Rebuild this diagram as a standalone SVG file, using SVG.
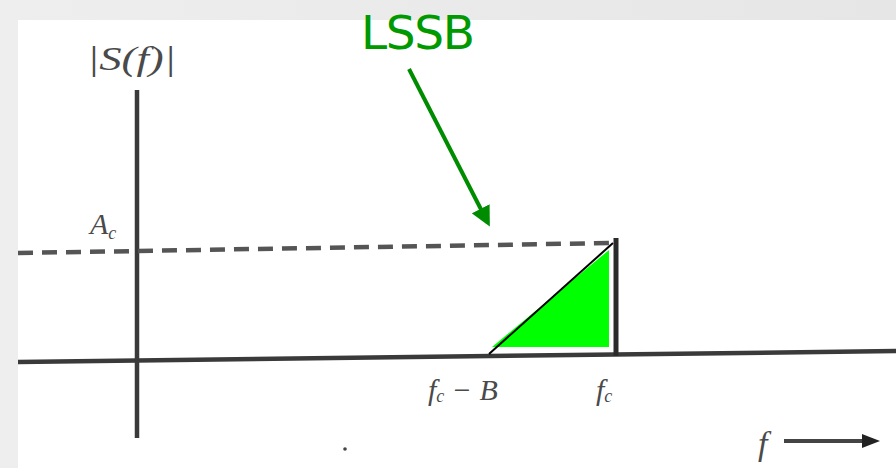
<svg xmlns="http://www.w3.org/2000/svg" width="896" height="468" viewBox="0 0 896 468">
  <defs>
    <linearGradient id="bg" x1="0" y1="0" x2="1" y2="0">
      <stop offset="0" stop-color="#eeeeee"/>
      <stop offset="1" stop-color="#e6e6e6"/>
    </linearGradient>
    <marker id="gh" markerWidth="5" markerHeight="5" refX="4" refY="2.5" orient="auto" markerUnits="strokeWidth">
      <path d="M0,0 L5,2.5 L0,5 Z" fill="#008c00"/>
    </marker>
    <style>
      .scan { font-family: "Liberation Serif", serif; font-style: italic; fill: #4a4a4a; }
      .axis { stroke: #3a3a3a; stroke-width: 4.5; fill: none; }
    </style>
  </defs>
  <rect width="896" height="468" fill="url(#bg)"/>
  <rect x="18" y="20" width="878" height="448" fill="#ffffff"/>

  <g id="connectors">
    <!-- horizontal axis -->
    <line class="axis" x1="18" y1="362" x2="896" y2="351"/>
    <!-- vertical axis -->
    <line class="axis" x1="137" y1="90" x2="137" y2="438" stroke="#4a4a4a" stroke-width="4"/>
    <!-- dashed amplitude line -->
    <line x1="18" y1="253" x2="612" y2="243" stroke="#555" stroke-width="4.5" stroke-dasharray="15 9"/>
    <!-- LSSB pointer arrow -->
    <line x1="409" y1="69" x2="488" y2="223" stroke="#008c00" stroke-width="4" marker-end="url(#gh)"/>
    <!-- f axis arrow -->
    <line x1="784" y1="441" x2="872" y2="441" stroke="#444" stroke-width="4"/>
    <path d="M862,434 L880,441 L862,448 Z" fill="#222"/>
  </g>

  <g id="lssb-spectrum">
    <polygon points="492,347 609,250 609,347" fill="#00ff00"/>
    <line x1="489" y1="354" x2="613" y2="243" stroke="#000" stroke-width="2"/>
    <line x1="616" y1="238" x2="616" y2="356" stroke="#2a2a2a" stroke-width="5"/>
  </g>

  <g id="label-lssb">
    <text x="361" y="49" font-family="DejaVu Sans, sans-serif" font-size="47" fill="#009900" textLength="114">LSSB</text>
  </g>

  <g id="label-sf">
    <text class="scan" x="87" y="70" font-size="34" textLength="89" lengthAdjust="spacingAndGlyphs">|S(f)|</text>
  </g>

  <g id="label-ac">
    <text class="scan" x="90" y="234" font-size="30">A<tspan font-size="18" dy="5">c</tspan></text>
  </g>

  <g id="label-fc-b">
    <text class="scan" x="428" y="400" font-size="30">f<tspan font-size="18" dy="2">c</tspan><tspan dy="-2"> − B</tspan></text>
  </g>

  <g id="label-fc">
    <text class="scan" x="596" y="400" font-size="30">f<tspan font-size="18" dy="2">c</tspan></text>
  </g>

  <g id="label-f">
    <text class="scan" x="758" y="455" font-size="34">f</text>
  </g>

  <circle cx="345" cy="449" r="1.8" fill="#444"/>
</svg>
